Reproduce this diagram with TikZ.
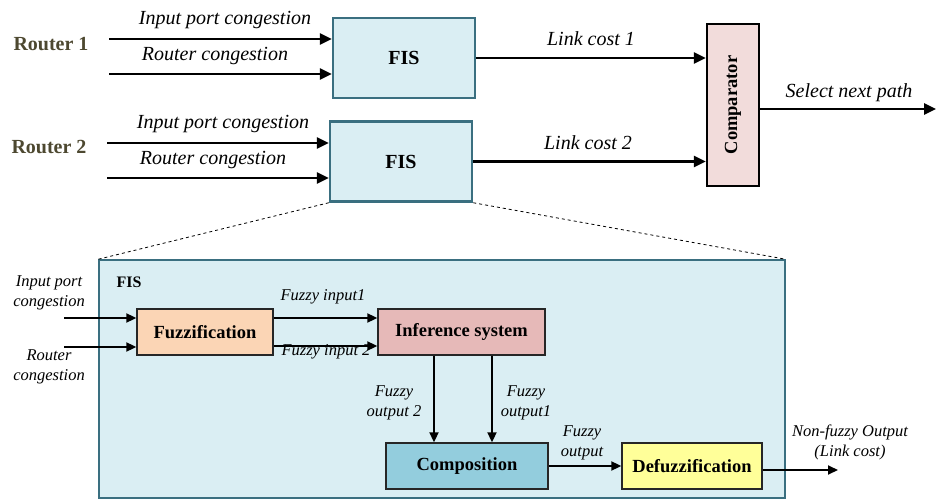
\documentclass[tikz,border=0pt]{standalone}
\usepackage{fontspec}
\setmainfont{Liberation Serif}
\usetikzlibrary{arrows.meta,calc}
\definecolor{fisfill}{HTML}{DAEEF3}
\definecolor{fisline}{HTML}{3A6F80}
\definecolor{cmpfill}{HTML}{F2DCDB}
\definecolor{fuzfill}{HTML}{FBD5B5}
\definecolor{inffill}{HTML}{E6B9B8}
\definecolor{compfill}{HTML}{93CDDD}
\definecolor{defill}{HTML}{FFFF99}
\definecolor{routercol}{HTML}{4D4830}
\tikzset{
  bigarr/.style={line width=2.5pt,-{Triangle[length=12pt,width=11pt]}},
  smallarr/.style={line width=2pt,-{Triangle[length=10pt,width=9pt]}},
  fisbox/.style={draw=fisline,fill=fisfill,line width=2.5pt,minimum width=142pt,minimum height=80pt,inner sep=0pt,font=\fontsize{20}{24}\selectfont\bfseries},
  blk/.style={draw=black!85,line width=1.4pt,minimum height=46pt,inner sep=0pt,font=\fontsize{18.5}{22}\selectfont\bfseries},
  lbl/.style={font=\fontsize{20}{24}\selectfont\itshape,inner sep=0pt},
  slbl/.style={font=\fontsize{16.5}{20}\selectfont\itshape,inner sep=0pt,align=center},
  router/.style={font=\fontsize{20}{24}\selectfont\bfseries,text=routercol,inner sep=0pt}
}
\begin{document}
\begin{tikzpicture}[x=1pt,y=-1pt]
\useasboundingbox (0,0) rectangle (937,500);
% big FIS box
\node[draw=fisline,fill=fisfill,line width=1.5pt,minimum width=686pt,minimum height=238pt,inner sep=0pt] (big) at (442,379) {};
% top part
\node[fisbox] (fis1) at (404,58) {FIS};
\node[fisbox] (fis2) at (401,161.5) {FIS};
\node[draw=black,fill=cmpfill,line width=2.5pt,minimum width=52pt,minimum height=162pt,inner sep=0pt] (cmp) at (733,105) {};
\node[rotate=90,font=\fontsize{18.5}{22}\selectfont\bfseries,inner sep=0pt] (cmpt) at (cmp.center) {Comparator};
\node[router] (r1) at (51,44) {Router 1};
\node[router] (r2) at (49,147) {Router 2};
\coordinate (s11) at (109,39);
\coordinate (s12) at (109,74);
\coordinate (s21) at (107,143);
\coordinate (s22) at (107,178);
\draw[bigarr] (s11) -- (s11 -| fis1.west);
\draw[bigarr] (s12) -- (s12 -| fis1.west);
\draw[bigarr] (s21) -- (s21 -| fis2.west);
\draw[bigarr] (s22) -- (s22 -| fis2.west);
\node[lbl] (l11) at (225,20) {Input port congestion};
\node[lbl] (l12) at (215,56) {Router congestion};
\node[lbl] (l21) at (223,124) {Input port congestion};
\node[lbl] (l22) at (213,160) {Router congestion};
\draw[bigarr] (fis1.east) -- (fis1.east -| cmp.west);
\draw[bigarr] (fis2.east) -- (fis2.east -| cmp.west);
\node[lbl] (lc1) at (591,39) {Link cost 1};
\node[lbl] (lc2) at (588,143) {Link cost 2};
\coordinate (sel) at (936,109);
\draw[bigarr] (cmp.east |- sel) -- (sel);
\node[lbl] (lsel) at (849,93) {Select next path};
% zoom lines
\draw[dashed,line width=0.8pt] (fis2.south west) -- (big.north west);
\draw[dashed,line width=0.8pt] (fis2.south east) -- (big.north east);
% lower part
\node[font=\fontsize{16}{19}\selectfont\bfseries,inner sep=0pt] (fislbl) at (129,282) {FIS};
\node[blk,fill=fuzfill,minimum width=136pt] (fuz) at (205,332) {Fuzzification};
\node[blk,fill=inffill,minimum width=167pt] (inf) at (461.5,332) {Inference system};
\node[blk,fill=compfill,minimum width=162pt] (comp) at (467,466) {Composition};
\node[blk,fill=defill,minimum width=140pt] (dz) at (692,466) {Defuzzification};
\node[slbl] (lin1) at (49,293) {Input port\\congestion};
\node[slbl] (lin2) at (49,367) {Router\\congestion};
\coordinate (a1) at (64,318);
\coordinate (a2) at (64,347);
\draw[smallarr] (a1) -- (a1 -| fuz.west);
\draw[smallarr] (a2) -- (a2 -| fuz.west);
\coordinate (b1) at (0,318);
\coordinate (b2) at (0,346);
\draw[smallarr] (b1 -| fuz.east) -- (b1 -| inf.west);
\draw[smallarr] (b2 -| fuz.east) -- (b2 -| inf.west);
\node[slbl] (lfi1) at (323,297) {Fuzzy input1};
\node[slbl] (lfi2) at (326,352) {Fuzzy input 2};
\coordinate (v1) at (434,0);
\coordinate (v2) at (492,0);
\draw[smallarr] (v1 |- inf.south) -- (v1 |- comp.north);
\draw[smallarr] (v2 |- inf.south) -- (v2 |- comp.north);
\node[slbl] (lfo2) at (394,403) {Fuzzy\\output 2};
\node[slbl] (lfo1) at (526,403) {Fuzzy\\output1};
\draw[smallarr] (comp.east) -- (comp.east -| dz.west);
\node[slbl] (lfo) at (582,443) {Fuzzy\\output};
\coordinate (out) at (838,470);
\draw[smallarr] (dz.east |- out) -- (out);
\node[slbl] (lout) at (850,442) {Non-fuzzy Output\\(Link cost)};
\end{tikzpicture}
\end{document}
